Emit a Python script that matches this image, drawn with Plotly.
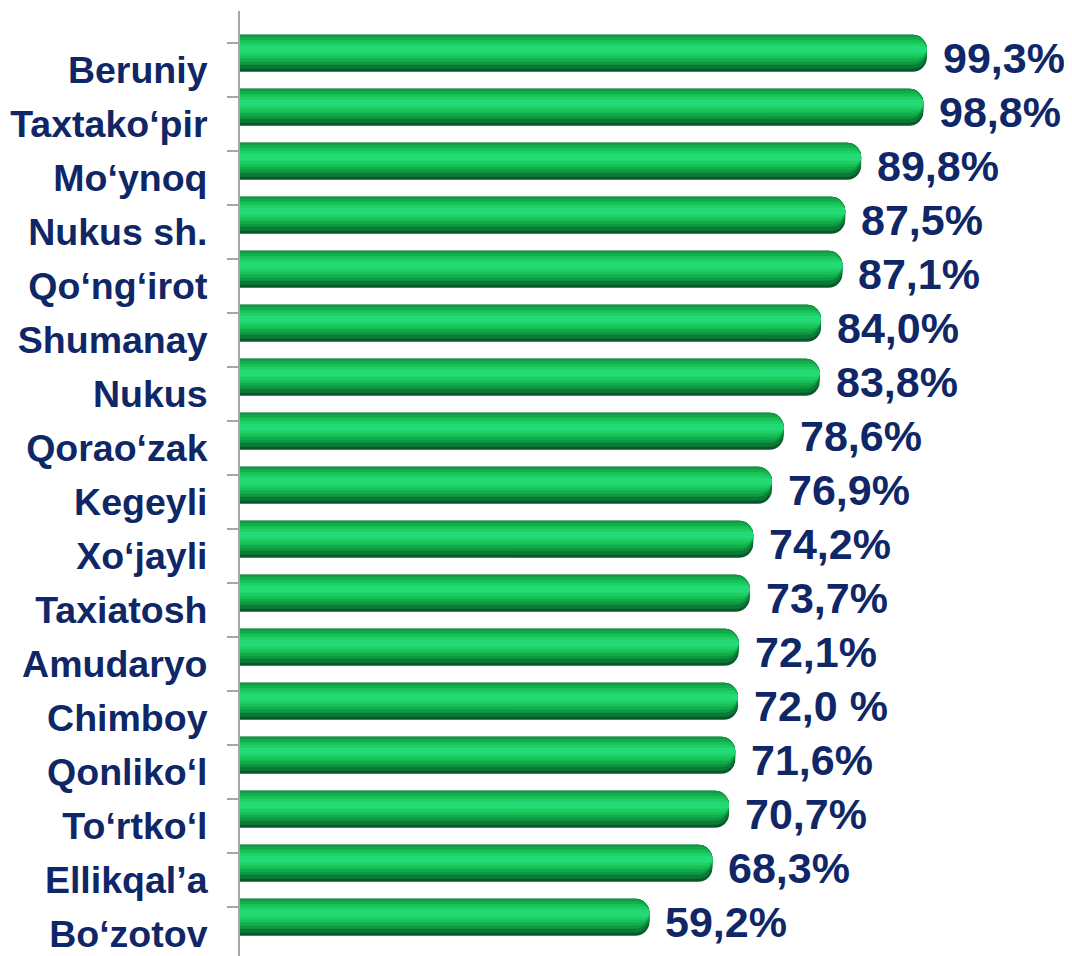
import plotly.graph_objects as go

categories = ["Beruniy", "Taxtako‘pir", "Mo‘ynoq", "Nukus sh.", "Qo‘ng‘irot", "Shumanay",
              "Nukus", "Qorao‘zak", "Kegeyli", "Xo‘jayli", "Taxiatosh", "Amudaryo",
              "Chimboy", "Qonliko‘l", "To‘rtko‘l", "Ellikqal’a", "Bo‘zotov"]
values = [99.3, 98.8, 89.8, 87.5, 87.1, 84.0, 83.8, 78.6, 76.9, 74.2, 73.7, 72.1,
          72.0, 71.6, 70.7, 68.3, 59.2]
value_labels = ["99,3%", "98,8%", "89,8%", "87,5%", "87,1%", "84,0%", "83,8%", "78,6%",
                "76,9%", "74,2%", "73,7%", "72,1%", "72,0 %", "71,6%", "70,7%", "68,3%", "59,2%"]

NAVY = "#0f2766"
ROW = 54.0  # px per category band

# gradient layers (top px, bottom px within 37px bar, colour)
layers = [
    (0, 37, "#07592b"),
    (0, 34, "#0a7a35"),
    (0, 30, "#0d9940"),
    (2, 27, "#12ad4b"),
    (5, 24, "#18c058"),
    (8, 21, "#1ecf66"),
    (11, 18, "#24da74"),
]
BAR_TOP = -35.0  # bar top relative to band centre, px

fig = go.Figure()
for top, bot, col in layers:
    fig.add_trace(go.Bar(
        x=values, y=categories, orientation="h",
        offset=(BAR_TOP + top) / ROW, width=(bot - top) / ROW,
        marker=dict(color=col, line=dict(width=0)),
        hoverinfo="skip", showlegend=False,
    ))

for c, v, t in zip(categories, values, value_labels):
    fig.add_annotation(x=v, y=c, text=t, showarrow=False, xanchor="left",
                       yanchor="middle", xshift=14, yshift=12,
                       font=dict(family="Liberation Sans, Arial", size=43, color=NAVY,
                                 weight="bold"))

# page body has an 8px margin: size the figure so the plot area lands where the reference has it
fig.update_layout(
    width=1064, height=948, autosize=False,
    margin=dict(l=232, r=2, t=3, b=0),
    paper_bgcolor="white", plot_bgcolor="white",
    barmode="overlay", barcornerradius=14,
    font=dict(family="Liberation Sans, Arial", color=NAVY),
    xaxis=dict(range=[0, 120], visible=False, showgrid=False, zeroline=False),
    yaxis=dict(type="category", categoryorder="array", categoryarray=categories,
               range=[16.41, -1.09], showgrid=False, zeroline=False,
               showline=True, linecolor="#a6a6a6", linewidth=2,
               ticks="outside", tickson="boundaries", ticklen=11,
               tickcolor="#a6a6a6", tickwidth=1.5, ticklabelstandoff=23,
               tickfont=dict(family="Liberation Sans, Arial", size=37.5, color=NAVY,
                             weight="bold")),
)

fig.write_html("out.html")
